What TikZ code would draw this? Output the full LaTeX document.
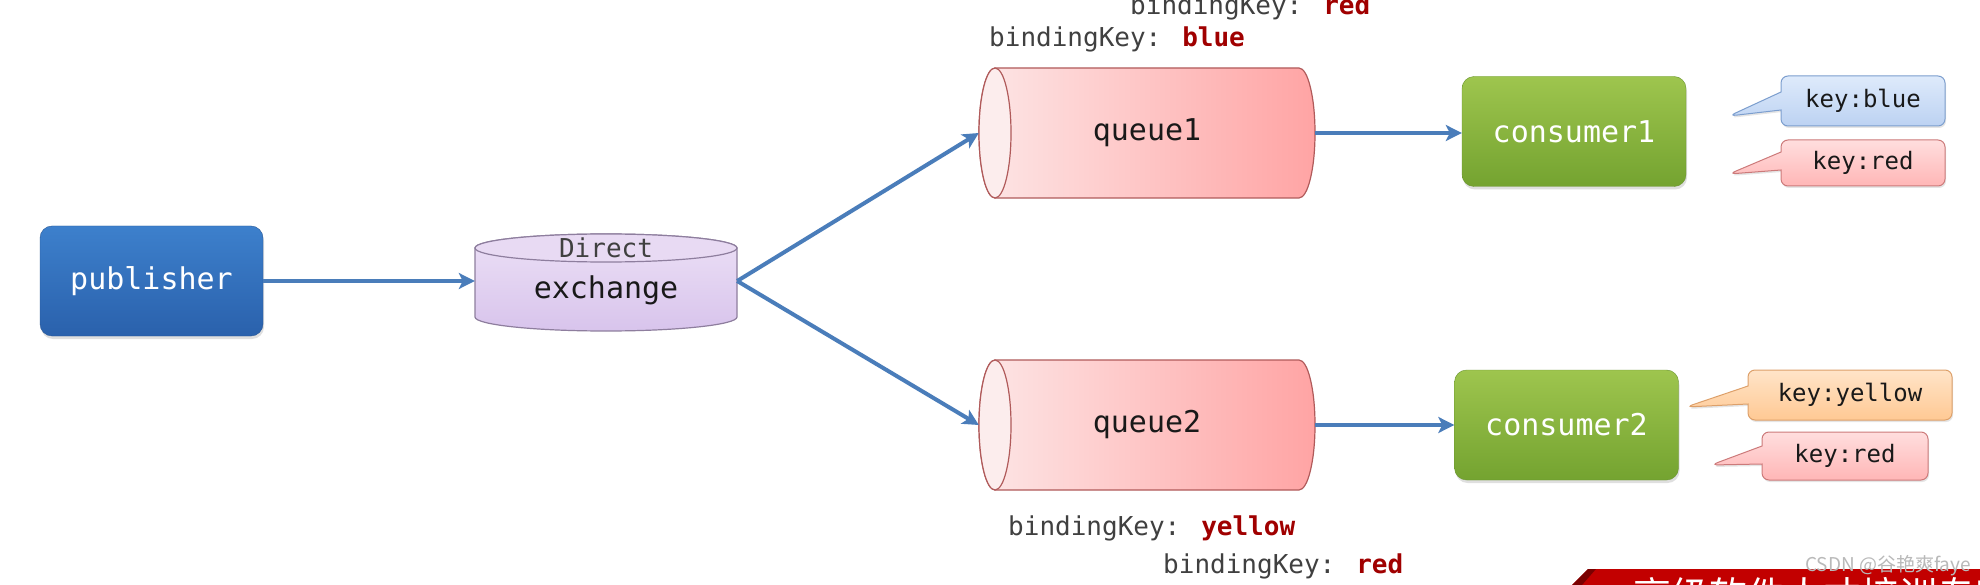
\documentclass[tikz,border=0pt]{standalone}
\usepackage{fontspec}
\newfontfamily\mono{DejaVu Sans Mono}
\newfontfamily\cjk{Noto Sans CJK SC}
\usetikzlibrary{shapes.callouts,shadows,arrows.meta}
\definecolor{arrowc}{HTML}{4A7DBA}
\definecolor{pubT}{HTML}{3D80CC}
\definecolor{pubB}{HTML}{2A61AC}
\definecolor{pubD}{HTML}{2A5896}
\definecolor{conT}{HTML}{9EC54E}
\definecolor{conB}{HTML}{74A330}
\definecolor{conD}{HTML}{6A9530}
\definecolor{exT}{HTML}{ECE0F6}
\definecolor{exB}{HTML}{D8C4EC}
\definecolor{exD}{HTML}{8E7E9E}
\definecolor{exTop}{HTML}{E8DAF3}
\definecolor{qL}{HTML}{FDE6E6}
\definecolor{qR}{HTML}{FFA4A4}
\definecolor{qD}{HTML}{B05A5A}
\definecolor{qE}{HTML}{FCEDED}
\definecolor{kbT}{HTML}{DEEAFB}
\definecolor{kbB}{HTML}{BCD2F2}
\definecolor{kbD}{HTML}{7C9ECE}
\definecolor{krT}{HTML}{FFDEDE}
\definecolor{krB}{HTML}{FFB6B6}
\definecolor{krD}{HTML}{CC7A7A}
\definecolor{kyT}{HTML}{FFE4C8}
\definecolor{kyB}{HTML}{FFC994}
\definecolor{kyD}{HTML}{DDA06A}
\definecolor{bkgray}{HTML}{404040}
\definecolor{bkred}{HTML}{A00000}
\definecolor{bannerR}{HTML}{C20000}
\definecolor{bannerD}{HTML}{7A0000}
\tikzset{
  conn/.style={draw=arrowc, line width=4pt, -{Stealth[length=16pt,width=16pt,inset=4pt]}},
  boxbase/.style={rounded corners=12pt, text=white, inner sep=0pt,
    font=\mono\fontsize{30}{36}\selectfont,
    drop shadow={shadow xshift=1pt, shadow yshift=-3pt, opacity=0.25}},
  pubbox/.style={boxbase, top color=pubT, bottom color=pubB, draw=pubD,
    minimum width=223pt, minimum height=110pt},
  conbox/.style={boxbase, top color=conT, bottom color=conB, draw=conD,
    minimum width=224pt, minimum height=110pt},
  plaintext/.style={inner sep=0pt, text=black!90, font=\mono\fontsize{30}{36}\selectfont},
  qarea/.style={plaintext, minimum width=336pt, minimum height=130pt},
  callbase/.style={rectangle callout, rounded corners=7pt, line width=1pt,
    inner sep=0pt, callout pointer width=18pt, text=black!90,
    font=\mono\fontsize{24}{28}\selectfont,
    drop shadow={shadow xshift=1pt, shadow yshift=-2pt, opacity=0.2}},
  keyblue/.style={callbase, top color=kbT, bottom color=kbB, draw=kbD},
  keyred/.style={callbase, top color=krT, bottom color=krB, draw=krD},
  keyyellow/.style={callbase, top color=kyT, bottom color=kyB, draw=kyD},
  bklabel/.style={anchor=base west, inner sep=0pt, text=bkgray,
    font=\mono\fontsize{26}{30}\selectfont},
}
\begin{document}
\begin{tikzpicture}[x=1pt,y=1pt]
\useasboundingbox (0,0) rectangle (1980,-585);
\fill[white] (0,0) rectangle (1980,-585);

% exchange cylinder
\draw[top color=exT, bottom color=exB, draw=exD, line width=1.2pt]
  (475,-248) -- (475,-317) arc[start angle=180,end angle=360,x radius=131pt,y radius=14pt]
  -- (737,-248) arc[start angle=0,end angle=180,x radius=131pt,y radius=14pt] -- cycle;
\filldraw[fill=exTop, draw=exD, line width=1.2pt] (606,-248) ellipse[x radius=131pt, y radius=14pt];

% queue cylinders
\draw[left color=qL, right color=qR, draw=qD, line width=1.2pt]
  (995,-68) -- (1299,-68) arc[start angle=90,end angle=-90,x radius=16pt,y radius=65pt]
  -- (995,-198) arc[start angle=270,end angle=90,x radius=16pt,y radius=65pt] -- cycle;
\filldraw[fill=qE, draw=qD, line width=1.2pt] (995,-133) ellipse[x radius=16pt, y radius=65pt];
\draw[left color=qL, right color=qR, draw=qD, line width=1.2pt]
  (995,-360) -- (1299,-360) arc[start angle=90,end angle=-90,x radius=16pt,y radius=65pt]
  -- (995,-490) arc[start angle=270,end angle=90,x radius=16pt,y radius=65pt] -- cycle;
\filldraw[fill=qE, draw=qD, line width=1.2pt] (995,-425) ellipse[x radius=16pt, y radius=65pt];

% nodes
\node[pubbox] (pub) at (151.5,-281) {publisher};
\node[plaintext, minimum width=262pt, minimum height=97pt] (ex) at (606,-281) {};
\node[plaintext, text=bkgray, font=\mono\fontsize{26}{30}\selectfont] (exd) at (606,-248) {Direct};
\node[plaintext] (exn) at (606,-290) {exchange};
\node[qarea] (q1) at (1147,-133) {queue1};
\node[qarea] (q2) at (1147,-425) {queue2};
\node[conbox] (c1) at (1574,-131.5) {consumer1};
\node[conbox] (c2) at (1566.5,-425) {consumer2};

% callouts
\node[keyblue, minimum width=164pt, minimum height=50pt,
  callout absolute pointer={(1729,-116)}] (kb1) at (1863,-101) {key:blue};
\node[keyred, minimum width=164pt, minimum height=46pt,
  callout absolute pointer={(1729,-174)}] (kr1) at (1863,-163) {key:red};
\node[keyyellow, minimum width=204pt, minimum height=50pt,
  callout absolute pointer={(1686,-407)}] (ky2) at (1850,-395) {key:yellow};
\node[keyred, minimum width=166pt, minimum height=48pt,
  callout absolute pointer={(1711,-465)}] (kr2) at (1845,-456) {key:red};

% binding key labels
\node[bklabel] (bk1) at (1130,-15) {bindingKey: \textcolor{bkred}{\bfseries red}};
\node[bklabel] (bk2) at (989,-47) {bindingKey: \textcolor{bkred}{\bfseries blue}};
\node[bklabel] (bk3) at (1008,-535) {bindingKey: \textcolor{bkred}{\bfseries yellow}};
\node[bklabel] (bk4) at (1163,-573) {bindingKey: \textcolor{bkred}{\bfseries red}};

% connectors
\draw[conn] (pub.east) -- (pub.east -| ex.west);
\draw[conn] (ex.east) -- (q1.west);
\draw[conn] (ex.east) -- (q2.west);
\draw[conn] (q1.east) -- (q1.east -| c1.west);
\draw[conn] (q2.east) -- (q2.east -| c2.west);

% banner (bottom right)
\fill[bannerR] (1572,-585) -- (1588,-569) -- (1980,-569) -- (1980,-585) -- cycle;
\fill[bannerD] (1572,-585) -- (1588,-569) -- (1596,-569) -- (1582,-585) -- cycle;
\begin{scope}
  \clip (1572,-585) -- (1588,-569) -- (1980,-569) -- (1980,-585) -- cycle;
  \node[anchor=base west, inner sep=0pt, text=white, font=\cjk\fontsize{38}{42}\selectfont]
    (ban) at (1633,-609) {高级软件人才培训专家};
\end{scope}
\node[anchor=base west, inner sep=0pt, text=gray!55, font=\cjk\fontsize{19}{22}\selectfont]
  (wm) at (1805,-571) {CSDN @谷艳爽faye};
\end{tikzpicture}
\end{document}
